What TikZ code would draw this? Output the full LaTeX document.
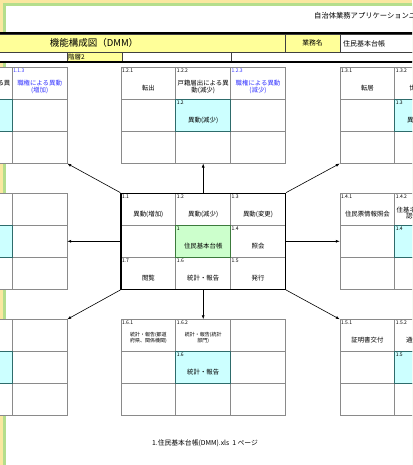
\documentclass[tikz,border=0pt]{standalone}
\usepackage{fontspec}
\setmainfont{Noto Sans CJK JP}
\usetikzlibrary{arrows.meta}
\definecolor{frameY}{HTML}{FAE7A0}
\definecolor{frameG}{HTML}{B4DE8C}
\definecolor{hdrY}{HTML}{FFFF99}
\definecolor{cyanc}{HTML}{CCFFFF}
\definecolor{cyanb}{HTML}{2E6B6B}
\definecolor{greenc}{HTML}{CCFFCC}
\definecolor{greenb}{HTML}{3C7A3C}
\definecolor{gridc}{HTML}{8A8A8A}
\definecolor{bluet}{HTML}{3333FF}
\tikzset{
  cellbox/.style={rectangle, draw=gridc, line width=0.7pt, minimum width=54.8pt,
    minimum height=32pt, inner sep=0pt, fill=white},
  hicyan/.style={fill=cyanc, draw=cyanb, line width=0.9pt},
  higreen/.style={fill=greenc, draw=greenb, line width=0.9pt},
  gridbox/.style={rectangle, minimum width=164.4pt, minimum height=96pt, inner sep=0pt},
  mainbox/.style={draw=black, line width=1.4pt},
  num/.style={anchor=north west, inner sep=0pt, font=\fontsize{5}{5}\selectfont},
  ctext/.style={inner sep=0pt, align=center, font=\fontsize{6.4}{6.8}\selectfont},
  smalltext/.style={inner sep=0pt, align=center, font=\fontsize{5}{5.8}\selectfont},
  bluetext/.style={text=bluet},
  arr/.style={-{Latex[length=4pt,width=3pt]}, line width=0.6pt},
  hdr/.style={rectangle, draw=black!75, line width=0.6pt, inner sep=0pt},
}
\newcommand\mkgrid[5]{%
  \foreach \ii in {1,2,3}{\foreach \jj in {1,2,3}{%
    \node[cellbox] (#1-\ii-\jj) at ({#2+(\jj-0.5)*54.8},{#3+(\ii-0.5)*32}) {};}}%
  \node[cellbox,#4] (#1-2-2) at ({#2+82.2},{#3+48}) {};%
  \node[gridbox,#5] (#1) at ({#2+82.2},{#3+48}) {};%
}
\newcommand\ct[4][]{%
  \node[num,#1] (#2-n) at ([xshift=1.2pt,yshift=-1.6pt]#2.north west) {#3};%
  \node[ctext,#1] (#2-t) at ([yshift=-5pt]#2.center) {#4};%
}
\newcommand\ctw[4][]{%
  \node[num,#1] (#2-n) at ([xshift=1.2pt,yshift=-1.6pt]#2.north west) {#3};%
  \node[ctext,#1] (#2-t) at ([yshift=-3.8pt]#2.center) {#4};%
}
\begin{document}
\begin{tikzpicture}[x=1pt,y=-1pt]
\useasboundingbox (0,0) rectangle (412,465);
\clip (0,0) rectangle (412,465);
% page frame
\fill[frameY] (0,0) rectangle (412,465);
\fill[frameG] (3,3) rectangle (414,467);
\fill[white] (6,6) rectangle (414,467);

% top right caption
\node[anchor=west, inner sep=0pt, font=\fontsize{7.3}{8}\selectfont] (cap) at (314,16)
  {自治体業務アプリケーションユニット};

% header rows
\node[hdr, fill=hdrY, minimum width=382.4pt, minimum height=18.3pt] (title) at (93.8,43.15) {};
\node[inner sep=0pt, font=\fontsize{9.5}{10}\selectfont] (titletext) at (94,43.2) {機能構成図（DMM）};
\node[hdr, fill=hdrY, minimum width=55pt, minimum height=18.3pt] (gyomu) at (312.5,43.15) {};
\node[inner sep=0pt, font=\fontsize{6.8}{7}\selectfont] (gyomut) at (312.5,43.4) {業務名};
\node[hdr, fill=white, minimum width=200pt, minimum height=18.3pt] (valcell) at (440,43.15) {};
\node[anchor=west, inner sep=0pt, font=\fontsize{7}{7}\selectfont] (valtext) at (343,43.4) {住民基本台帳};
\node[hdr, fill=white, minimum width=164.4pt, minimum height=9.2pt] (l1cell) at (-15.2,56.9) {};
\node[hdr, fill=hdrY, minimum width=54.8pt, minimum height=9.2pt] (l2cell) at (94.4,56.9) {};
\node[anchor=west, inner sep=0pt, font=\fontsize{6.5}{6.5}\selectfont] (l2text) at (68,57) {階層2};
\node[hdr, fill=white, minimum width=109.2pt, minimum height=9.2pt] (l3cell) at (176.4,56.9) {};
\node[hdr, fill=white, minimum width=300pt, minimum height=9.2pt] (l4cell) at (381,56.9) {};
\draw[line width=2pt] (0,33.3) -- (414,33.3);
\draw[line width=2pt] (0,62.3) -- (414,62.3);

% grids
\mkgrid{g1}{-97.4}{67.3}{hicyan}{}
\mkgrid{g2}{121}{67.3}{hicyan}{}
\mkgrid{g3}{340}{67.3}{hicyan}{}
\mkgrid{g4}{-97.4}{193.3}{hicyan}{}
\mkgrid{c}{121}{193.3}{higreen}{mainbox}
\mkgrid{g5}{340}{193.3}{hicyan}{}
\mkgrid{g6}{-97.4}{319.5}{hicyan}{}
\mkgrid{g7}{121}{319.5}{hicyan}{}
\mkgrid{g8}{340}{319.5}{hicyan}{}

% texts: top-left
\ctw{g1-1-2}{1.1.2}{戸籍届出による異\\動(増加)}
\ctw[bluetext]{g1-1-3}{1.1.3}{職権による異動\\(増加)}
\ct{g1-2-2}{1.1}{異動(増加)}
% top
\ct{g2-1-1}{1.2.1}{転出}
\ctw{g2-1-2}{1.2.2}{戸籍届出による異\\動(減少)}
\ctw[bluetext]{g2-1-3}{1.2.3}{職権による異動\\(減少)}
\ct{g2-2-2}{1.2}{異動(減少)}
% top right
\ct{g3-1-1}{1.3.1}{転居}
\ct{g3-1-2}{1.3.2}{世帯変更}
\ct{g3-2-2}{1.3}{異動(変更)}
% centre
\ct{c-1-1}{1.1}{異動(増加)}
\ct{c-1-2}{1.2}{異動(減少)}
\ct{c-1-3}{1.3}{異動(変更)}
\ct{c-2-2}{1}{住民基本台帳}
\ct{c-2-3}{1.4}{照会}
\ct{c-3-1}{1.7}{閲覧}
\ct{c-3-2}{1.6}{統計・報告}
\ct{c-3-3}{1.5}{発行}
% middle right
\ct{g5-1-1}{1.4.1}{住民票情報照会}
\ctw{g5-1-2}{1.4.2}{住基ネット本人確\\認情報照会}
\ct{g5-2-2}{1.4}{照会}
% bottom
\node[num] (g7-1-1-n) at ([xshift=1.2pt,yshift=-1.6pt]g7-1-1.north west) {1.6.1};
\node[smalltext] (g7-1-1-t) at ([yshift=-2.6pt]g7-1-1.center) {統計・報告(都道\\府県、関係機関)};
\node[num] (g7-1-2-n) at ([xshift=1.2pt,yshift=-1.6pt]g7-1-2.north west) {1.6.2};
\node[smalltext] (g7-1-2-t) at ([yshift=-2.6pt]g7-1-2.center) {統計・報告(統計\\部門)};
\ct{g7-2-2}{1.6}{統計・報告}
% bottom right
\ct{g8-1-1}{1.5.1}{証明書交付}
\ct{g8-1-2}{1.5.2}{通知書発行}
\ct{g8-2-2}{1.5}{発行}

% arrows
\draw[arr] (c.north) -- (g2.south);
\draw[arr] (c.south) -- (g7.north);
\draw[arr] (c.west) -- (g4.east);
\draw[arr] (c.east) -- (g5.west);
\draw[arr] (c.north west) -- (g1.south east);
\draw[arr] (c.north east) -- (g3.south west);
\draw[arr] (c.south west) -- (g6.north east);
\draw[arr] (c.south east) -- (g8.north west);

% footer
\node[inner sep=0pt, font=\fontsize{6.8}{7}\selectfont] (footer) at (205,443)
  {1.住民基本台帳(DMM).xls\ \ 1 ページ};
\end{tikzpicture}
\end{document}
